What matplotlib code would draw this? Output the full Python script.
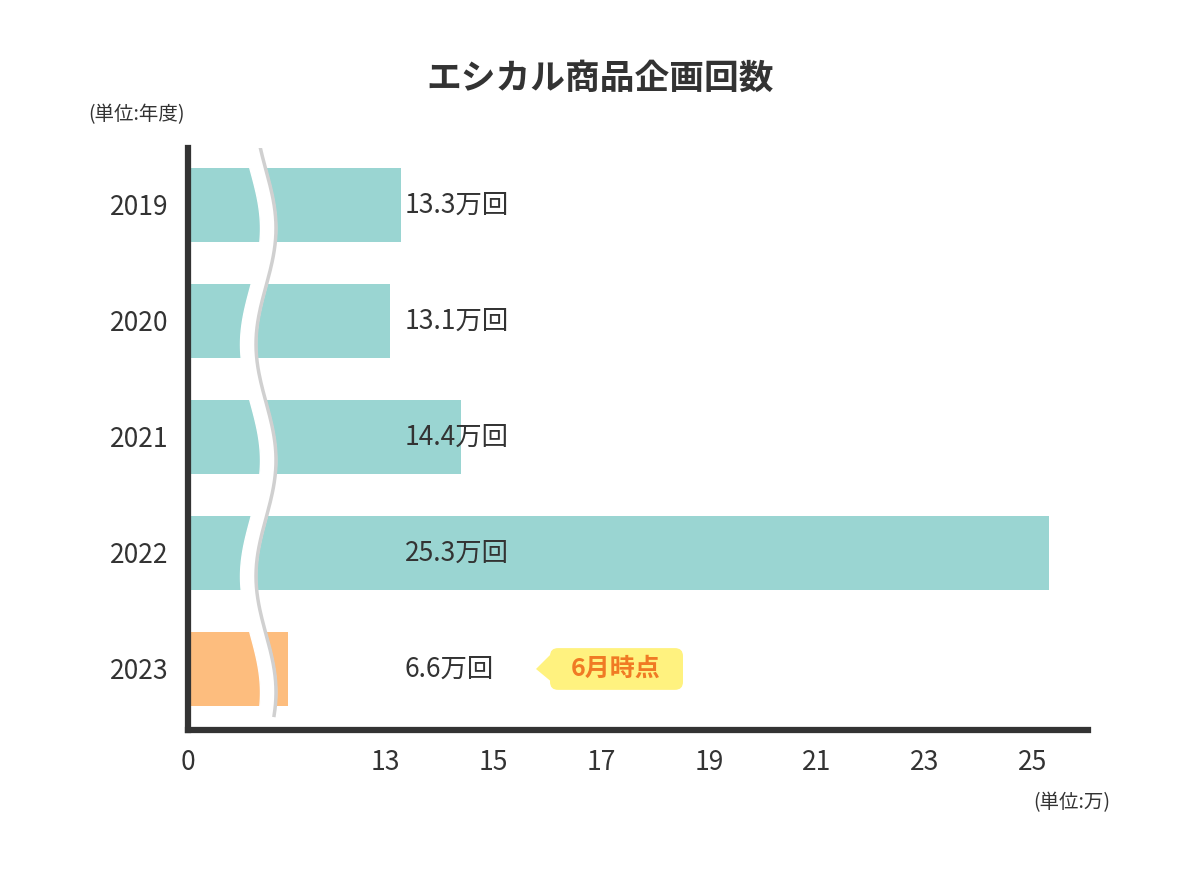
import matplotlib.pyplot as plt
from matplotlib.patches import FancyBboxPatch, Polygon
import numpy as np

plt.rcParams['font.family'] = 'Noto Sans CJK JP'

years = ['2019', '2020', '2021', '2022', '2023']
values = [13.3, 13.1, 14.4, 25.3, 6.6]
labels = ['13.3万回', '13.1万回', '14.4万回', '25.3万回', '6.6万回']
ticks = [0, 13, 15, 17, 19, 21, 23, 25]
colors = ['#9ad5d2'] * 4 + ['#fdbd7e']


def sx(v):
    # broken axis: 0..13 squeezed, linear after 13
    v = np.asarray(v, dtype=float)
    return np.where(v <= 13, v / 13 * 197, 197 + (v - 13) * 54)


fig = plt.figure(figsize=(12, 8.74), dpi=100)
ax = fig.add_axes([188 / 1200, 144 / 874, 900 / 1200, 582 / 874])
y = np.arange(len(years))
ax.barh(y, sx(values), height=0.64, color=colors, zorder=1)
ax.set_xlim(0, 900)
ax.set_ylim(4.526, -0.491)

# break band
yy = np.linspace(-0.491, 4.4, 200)
xc = 70 + 10 * np.sin((yy + 0.3) * np.pi)
ax.fill_betweenx(yy, xc - 8, xc + 8, color='white', zorder=2)
ax.plot(xc + 8, yy, color='#d0d0d0', lw=2.5, zorder=3)

for i, t in enumerate(labels):
    ax.text(217, i, t, va='center', ha='left', fontsize=19, color='#333333', zorder=4)

# callout
ax.add_patch(FancyBboxPatch((362, 3.82), 133, 0.36, boxstyle='round,pad=0,rounding_size=8',
                            fc='#fff27f', ec='none', zorder=4, mutation_aspect=1 / 116))
ax.add_patch(Polygon([[362, 3.88], [348, 4.0], [362, 4.1]], fc='#fff27f', ec='none', zorder=4))
ax.text(428, 4.0, '6月時点', ha='center', va='center', fontsize=18, fontweight='bold',
        color='#f07a24', zorder=5)

ax.set_xticks(sx(ticks))
ax.set_xticklabels([str(t) for t in ticks])
ax.set_yticks(y)
ax.set_yticklabels(years)
ax.tick_params(length=0, labelsize=19, colors='#333333', pad=14)
for s in ['top', 'right']:
    ax.spines[s].set_visible(False)
for s in ['left', 'bottom']:
    ax.spines[s].set_linewidth(4.5)
    ax.spines[s].set_color('#333333')

fig.text(0.5, 0.91, 'エシカル商品企画回数', ha='center', va='center', fontsize=25,
         fontweight='bold', color='#333333')
fig.text(88 / 1200, 1 - 115 / 874, '(単位:年度)', ha='left', va='center', fontsize=14, color='#333333')
fig.text(1110 / 1200, 1 - 803 / 874, '(単位:万)', ha='right', va='center', fontsize=14, color='#333333')

fig.savefig('out.png', dpi=100)
